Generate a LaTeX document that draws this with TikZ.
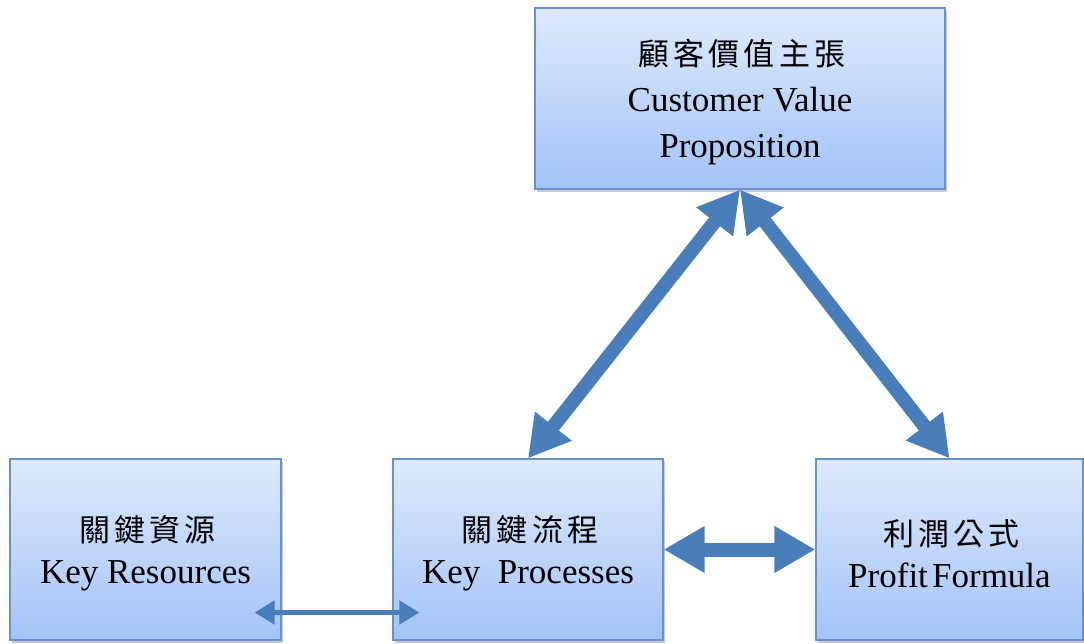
\documentclass[tikz,border=0pt]{standalone}
\usepackage{fontspec}
\setmainfont{Liberation Serif}
\newfontfamily\cjk[LetterSpace=13]{Noto Sans CJK TC}
\usetikzlibrary{arrows.meta,shadows}

\definecolor{boxtop}{RGB}{222,234,252}
\definecolor{boxbot}{RGB}{162,195,247}
\definecolor{boxline}{RGB}{104,145,205}
\definecolor{arrowblue}{RGB}{74,126,187}

\tikzset{
  box/.style={draw=boxline, line width=1.3pt, top color=boxtop, bottom color=boxbot,
    minimum height=181pt, inner sep=0pt,
    drop shadow={shadow xshift=1.5pt, shadow yshift=-2.5pt, opacity=0.35, fill=black!60}},
  txt/.style={align=center, inner sep=0pt, font=\fontsize{35}{46}\selectfont},
  txtlow/.style={align=center, inner sep=0pt, font=\fontsize{35}{42}\selectfont},
  bigarrow/.style={draw=arrowblue, line width=14pt,
    {Triangle[length=41pt,width=44pt]}-{Triangle[length=41pt,width=44pt]}},
  smallarrow/.style={draw=arrowblue, line width=5pt,
    {Triangle[length=20pt,width=23pt]}-{Triangle[length=20pt,width=23pt]}},
}

\begin{document}
\begin{tikzpicture}[x=1pt,y=-1pt]
  \useasboundingbox (0,0) rectangle (1084,643);

  % the four building blocks
  \node[box, minimum width=410pt] (CVP) at (740,98.5) {};
  \node[box, minimum width=271pt] (KR)  at (145.5,549.5) {};
  \node[box, minimum width=270pt] (KP)  at (528,549.5) {};
  \node[box, minimum width=267pt] (PF)  at (949.5,549.5) {};

  % labels
  \node[txt] (CVPt) at ([yshift=-4pt]CVP.center)
    {{\fontsize{31}{46}\selectfont\cjk 顧客價值主張\kern-4pt}\\Customer Value\\Proposition};
  \node[txtlow] (KRt) at ([yshift=-4pt]KR.center)
    {{\fontsize{31}{42}\selectfont\cjk 關鍵資源\kern-4pt}\\Key Resources};
  \node[txtlow] (KPt) at ([yshift=-4pt]KP.center)
    {{\fontsize{31}{42}\selectfont\cjk 關鍵流程\kern-4pt}\\Key~~Processes};
  \node[txtlow] (PFt) at ([yshift=-4pt]PF.center)
    {{\fontsize{31}{42}\selectfont\cjk 利潤公式\kern-4pt}\\Profit\hspace{0.12em}Formula};

  % links between the blocks
  \draw[bigarrow] (CVP.south) -- (KP.north);
  \draw[bigarrow] (CVP.south) -- (PF.north);
  \draw[bigarrow] (KP.east) -- (PF.west);
  \coordinate (KRa) at ([xshift=-27pt,yshift=-63pt]KR.east);
  \coordinate (KPa) at ([xshift=27pt,yshift=-63pt]KP.west);
  \draw[smallarrow] (KRa) -- (KPa);
\end{tikzpicture}
\end{document}
